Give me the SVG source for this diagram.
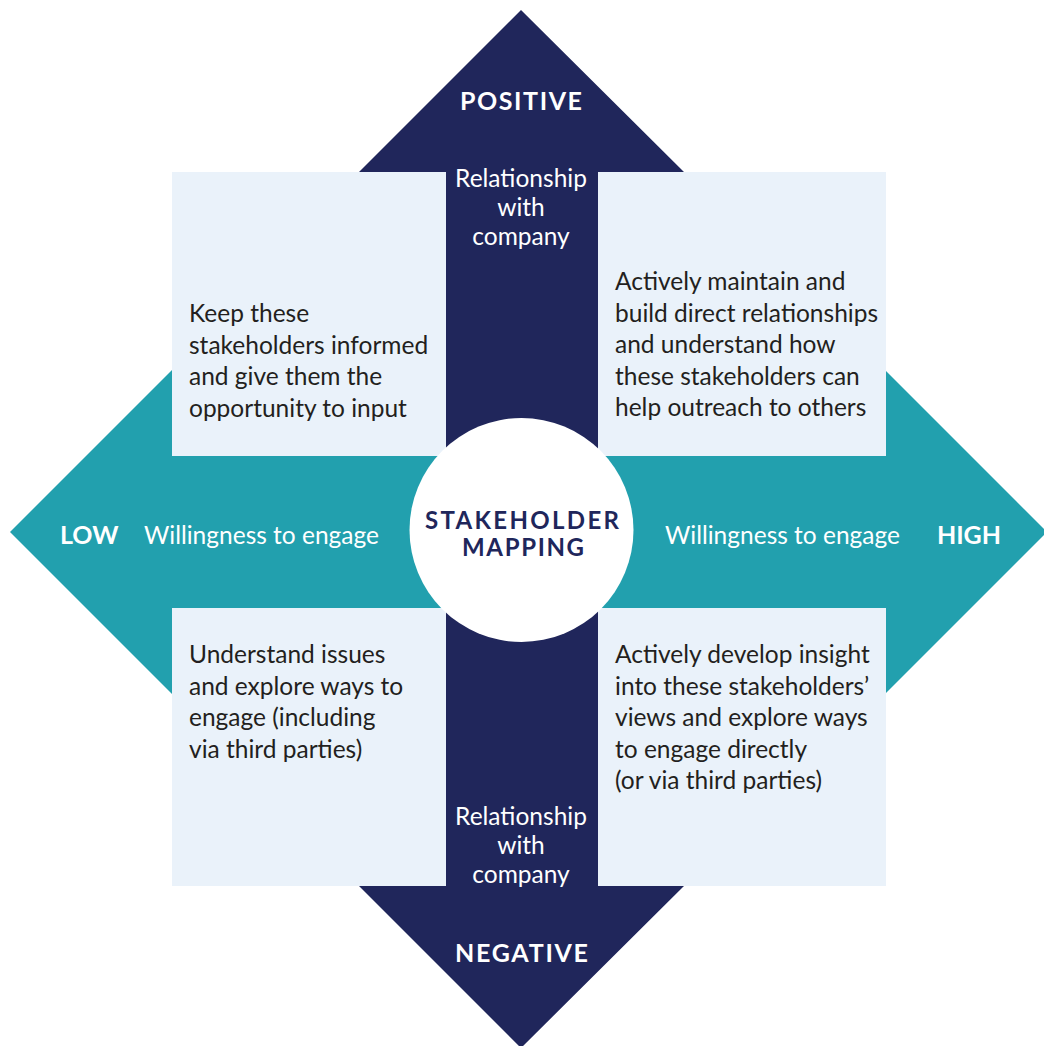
<svg xmlns="http://www.w3.org/2000/svg" width="1044" height="1046" viewBox="0 0 1044 1046">
<style>
.box{fill:#EAF2FA}
.body{font-family:Lato,"Open Sans",sans-serif;font-size:24.5px;fill:#231F20}
.wt{font-family:Lato,"Open Sans",sans-serif;font-size:24.5px;fill:#FFFFFF}
.lbl{font-family:Lato,"Open Sans",sans-serif;font-size:25px;font-weight:bold;fill:#FFFFFF}
.ctr{font-family:Lato,"Open Sans",sans-serif;font-size:24px;font-weight:bold;fill:#20265B}
</style>
<rect width="1044" height="1046" fill="#FFFFFF"/>
<g id="connectors">
<polygon id="teal-arrow" fill="#22A0AE" points="10,532 172,370 172,456 886,456 886,371 1047,532 886,693 886,608 172,608 172,694"/>
</g>
<g id="box-tl"><rect class="box" x="172" y="172" width="274" height="284"/>
<text class="body"><tspan x="189" y="322">Keep these</tspan><tspan x="189" y="353.5">stakeholders informed</tspan><tspan x="189" y="385">and give them the</tspan><tspan x="189" y="416.5">opportunity to input</tspan></text></g>
<g id="box-tr"><rect class="box" x="598" y="172" width="288" height="284"/>
<text class="body"><tspan x="615" y="290">Actively maintain and</tspan><tspan x="615" y="321.5">build direct relationships</tspan><tspan x="615" y="353">and understand how</tspan><tspan x="615" y="384.5">these stakeholders can</tspan><tspan x="615" y="416">help outreach to others</tspan></text></g>
<g id="box-bl"><rect class="box" x="172" y="608" width="274" height="278"/>
<text class="body"><tspan x="189" y="663">Understand issues</tspan><tspan x="189" y="694.5">and explore ways to</tspan><tspan x="189" y="726">engage (including</tspan><tspan x="189" y="757.5">via third parties)</tspan></text></g>
<g id="box-br"><rect class="box" x="598" y="608" width="288" height="278"/>
<text class="body"><tspan x="615" y="663">Actively develop insight</tspan><tspan x="615" y="694.5">into these stakeholders’</tspan><tspan x="615" y="726">views and explore ways</tspan><tspan x="615" y="757.5">to engage directly</tspan><tspan x="615" y="789">(or via third parties)</tspan></text></g>
<g id="navy-arrow">
<polygon fill="#20265B" points="521,10 684,172 598,172 598,886 684,886 521,1048 359,886 446,886 446,172 359,172"/>
</g>
<g id="positive"><text class="lbl" x="460" y="110" textLength="122" lengthAdjust="spacing">POSITIVE</text></g>
<g id="rel-top"><text class="wt" text-anchor="middle"><tspan x="521" y="187">Relationship</tspan><tspan x="521" y="216">with</tspan><tspan x="521" y="245">company</tspan></text></g>
<g id="negative"><text class="lbl" x="455" y="962" textLength="133" lengthAdjust="spacing">NEGATIVE</text></g>
<g id="rel-bottom"><text class="wt" text-anchor="middle"><tspan x="521" y="825">Relationship</tspan><tspan x="521" y="854">with</tspan><tspan x="521" y="883">company</tspan></text></g>
<g id="low"><text class="lbl" x="60" y="544">LOW</text><text class="wt" x="144" y="544">Willingness to engage</text></g>
<g id="high"><text class="wt" x="665" y="544">Willingness to engage</text><text class="lbl" x="937" y="544" textLength="64" lengthAdjust="spacing">HIGH</text></g>
<g id="center"><circle cx="521.5" cy="530" r="112" fill="#FFFFFF"/>
<text class="ctr"><tspan x="425" y="529" textLength="194" lengthAdjust="spacing">STAKEHOLDER</tspan><tspan x="462" y="556" textLength="122" lengthAdjust="spacing">MAPPING</tspan></text></g>
</svg>
